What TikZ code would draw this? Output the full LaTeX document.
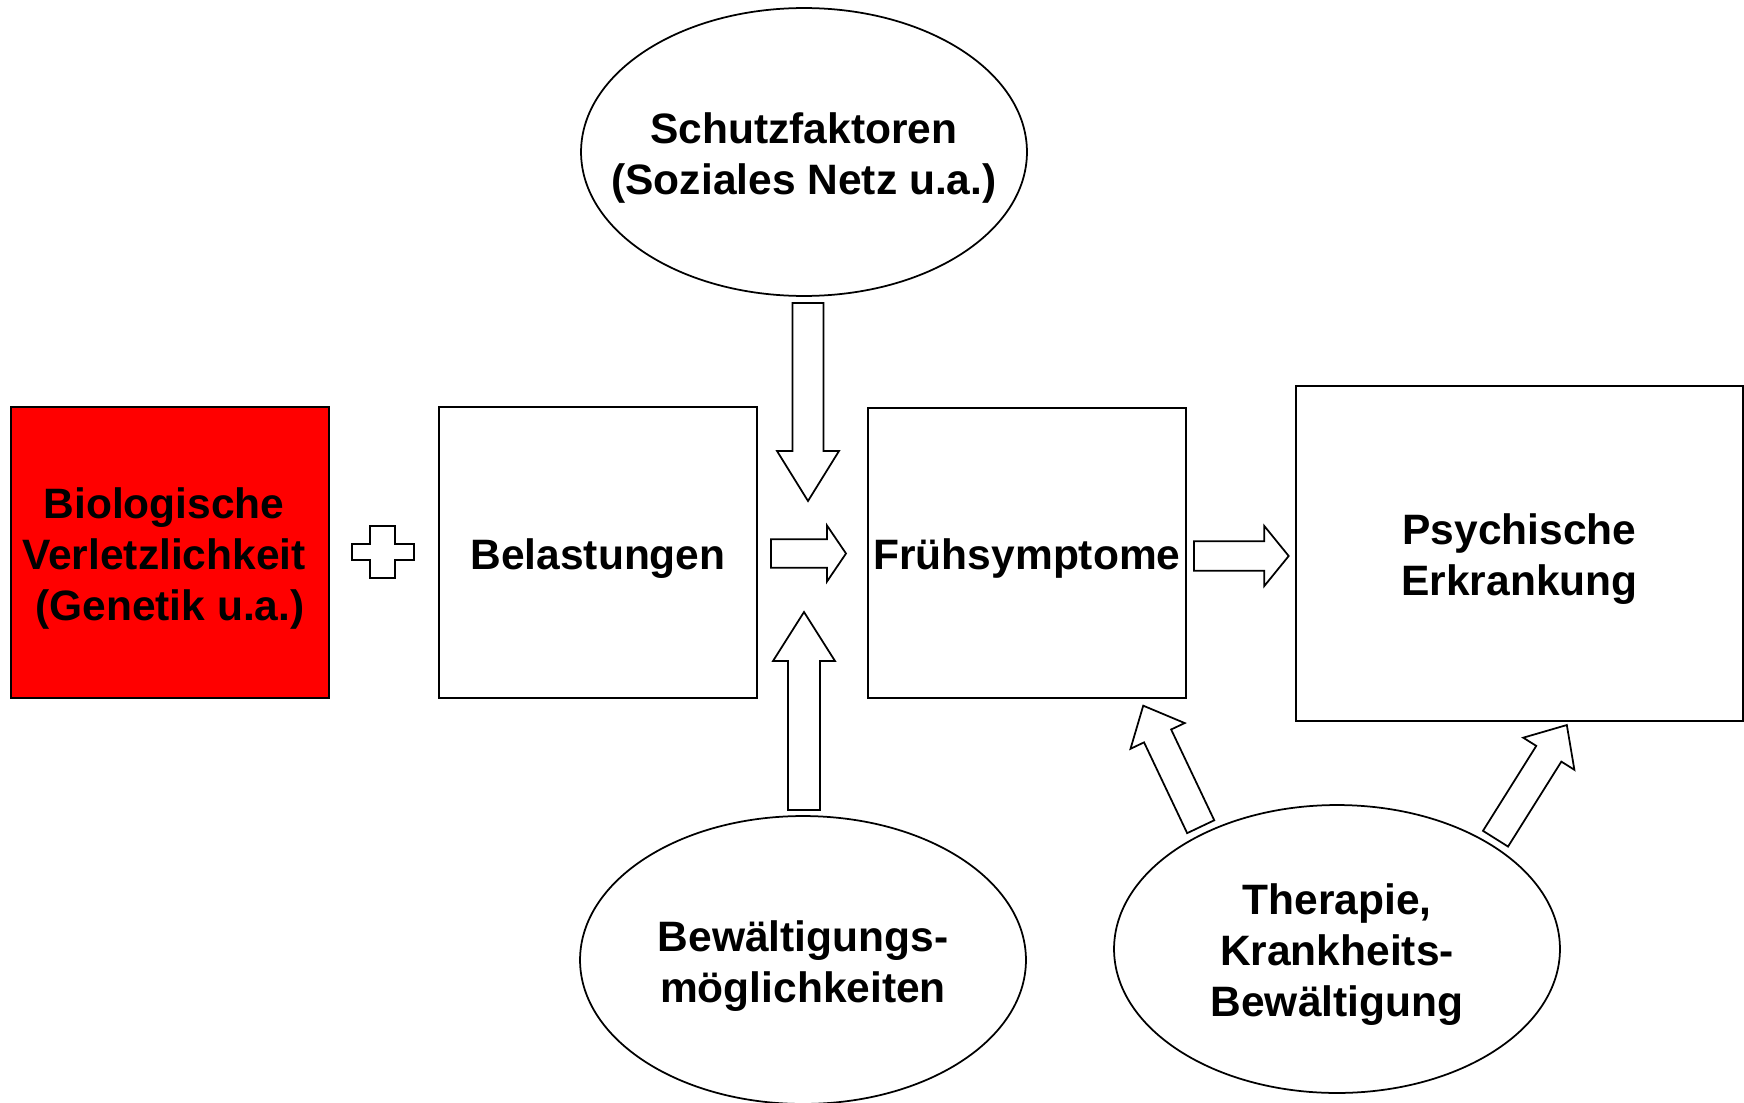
\documentclass[tikz,border=0pt]{standalone}
\usepackage{fontspec}
\setmainfont{Liberation Sans}
\usetikzlibrary{shapes.geometric}
\tikzset{
  txt/.style={align=center, inner sep=0pt, text=black, yshift=-0.12cm,
    font=\fontsize{24.2pt}{29pt}\selectfont\bfseries},
  box/.style={draw=black, line width=0.04cm, minimum width=6.36cm, minimum height=5.82cm, inner sep=0pt},
  oval/.style={draw=black, ellipse, line width=0.035cm, minimum width=8.92cm, minimum height=5.76cm, inner sep=0pt},
  barrow/.style={draw=black, fill=white, line width=0.035cm, line join=miter},
  pics/blockarrow/.style args={#1/#2/#3/#4}{code={
    \draw[barrow] (0,-#2) -- ({#1-#4},-#2) -- ({#1-#4},-#3) -- (#1,0)
      -- ({#1-#4},#3) -- ({#1-#4},#2) -- (0,#2) -- cycle;
  }}
}
\begin{document}
\begin{tikzpicture}[x=0.02cm,y=-0.02cm]
\useasboundingbox (0,0) rectangle (1744,1102);

% boxes
\node[box, fill=red] (bio) at (170,552.5) {};
\node[txt, xshift=-0.12cm] (biotext) at (bio) {Biologische\\Verletzlichkeit\\\hspace*{0.236cm}(Genetik u.a.)};
\node[box] (bel) at (598,552.5) {};
\node[txt] (beltext) at (bel) {Belastungen};
\node[box] (frueh) at (1027,553) {};
\node[txt] (fruehtext) at (frueh) {Frühsymptome};
\node[box, minimum width=8.94cm, minimum height=6.7cm] (psy) at (1519.5,553.5) {};
\node[txt] (psytext) at (psy) {Psychische\\Erkrankung};

% ellipses
\node[oval] (schutz) at (804,152) {};
\node[txt] (schutztext) at (schutz) {Schutzfaktoren\\(Soziales Netz u.a.)};
\node[oval] (bew) at (803,960) {};
\node[txt] (bewtext) at (bew) {Bewältigungs-\\möglichkeiten};
\node[oval] (ther) at (1337,949) {};
\node[txt] (thertext) at (ther) {Therapie,\\Krankheits-\\Bewältigung};

% plus sign
\draw[barrow] (352,544) -- (370,544) -- (370,526) -- (395,526) -- (395,544)
  -- (414,544) -- (414,560) -- (395,560) -- (395,578) -- (370,578)
  -- (370,560) -- (352,560) -- cycle;

% block arrows
\coordinate (tA) at (771,553.5);
\coordinate (tB) at (1194,556);
\coordinate (tC) at (808,303);
\coordinate (tD) at (804,810);
\coordinate (tE) at (1200.7,826.7);
\coordinate (tF) at (1495.5,838.7);
\pic at (tA) {blockarrow=75/14.2/28/19};
\pic at (tB) {blockarrow=94.7/14.8/30/24.4};
\pic[rotate=-90] at (tC) {blockarrow=198/15.5/31/50};
\pic[rotate=90] at (tD) {blockarrow=198/16/31/49};
\pic[rotate=115.4] at (tE) {blockarrow=134/15/30/33.5};
\pic[rotate=57.9] at (tF) {blockarrow=134.2/14.8/30.2/33.9};
\end{tikzpicture}
\end{document}
